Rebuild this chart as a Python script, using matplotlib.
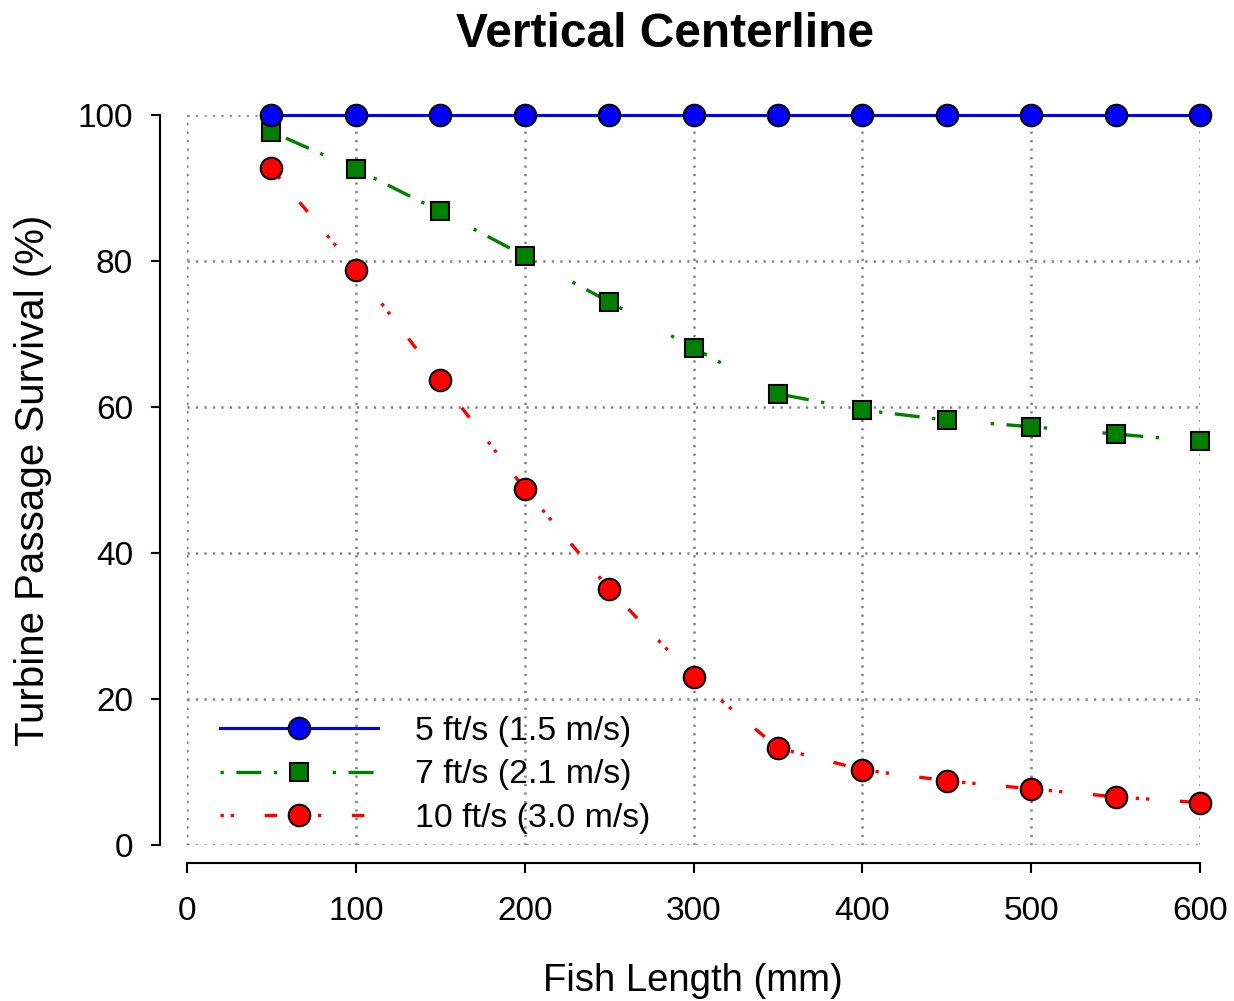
import matplotlib
matplotlib.use('Agg')
import matplotlib.pyplot as plt
import numpy as np

plt.rcParams['font.family'] = ['Liberation Sans', 'DejaVu Sans']
plt.rcParams['lines.scale_dashes'] = False

# fish length (mm) and survival (%) for each intake velocity
length = [50, 100, 150, 200, 250, 300, 350, 400, 450, 500, 550, 600]
surv_5fts = [100, 100, 100, 100, 100, 100, 100, 100, 100, 100, 100, 100]
surv_7fts = [97.7, 92.6, 86.8, 80.7, 74.4, 68.1, 61.8, 59.6, 58.2, 57.3, 56.3, 55.3]
surv_10fts = [92.7, 78.8, 63.7, 48.8, 35.1, 23.0, 13.3, 10.3, 8.8, 7.7, 6.6, 5.8]

labels = ['5 ft/s (1.5 m/s)', '7 ft/s (2.1 m/s)', '10 ft/s (3.0 m/s)']
xticks = [0, 100, 200, 300, 400, 500, 600]
yticks = [0, 20, 40, 60, 80, 100]

fig = plt.figure(figsize=(12.34, 10.01), dpi=100)
ax = fig.add_axes([187/1234, 1 - 845/1001, (1200 - 187)/1234, (845 - 115)/1001])

ax.plot(length, surv_5fts, color='blue', lw=2.2, marker='o', ms=15.5,
        mfc='blue', mec='black', mew=1.5, clip_on=False, zorder=5, label=labels[0])
ax.plot(length, surv_7fts, color='green', lw=2.4, dashes=(2.4, 9, 18, 9, 2.4, 40),
        marker='s', ms=13.5, mfc='green', mec='black', mew=1.5, clip_on=False,
        zorder=4, label=labels[1])
ax.plot(length, surv_10fts, color='red', lw=2.4, dashes=(2.4, 5, 2.4, 22, 9, 22),
        marker='o', ms=15.5, mfc='red', mec='black', mew=1.5, clip_on=False,
        zorder=4, label=labels[2])

ax.set_xlim(0, 600)
ax.set_ylim(0, 100)
ax.set_xticks(xticks)
ax.set_yticks(yticks)
ax.grid(True, color='#808080', lw=1.8, linestyle=(0, (1.6, 4.5)))
ax.set_axisbelow(True)

for s in ['top', 'right']:
    ax.spines[s].set_visible(False)
ax.spines['left'].set_position(('outward', 27 * 0.72))
ax.spines['bottom'].set_position(('outward', 18 * 0.72))
ax.spines['left'].set_bounds(0, 100)
ax.spines['bottom'].set_bounds(0, 600)
ax.spines['left'].set_linewidth(1.5)
ax.spines['bottom'].set_linewidth(1.5)
ax.tick_params(axis='y', direction='out', length=6.5, width=1.5, pad=13, labelsize=24)
ax.tick_params(axis='x', direction='out', length=7, width=1.5, pad=17, labelsize=24)

fig.text(665/1234, 1 - 47/1001, 'Vertical Centerline', ha='center', va='baseline',
         fontsize=34.5, fontweight='bold')
fig.text(693/1234, 1 - 991/1001, 'Fish Length (mm)', ha='center', va='baseline', fontsize=27.5)
fig.text(33/1234, 1 - 480/1001, 'Turbine Passage Survival (%)', ha='center', va='center',
         rotation=90, fontsize=29)

ax.legend(loc='center left', bbox_to_anchor=(220/1234, 1 - 775/1001),
          bbox_transform=fig.transFigure, frameon=False, fontsize=24.4,
          handlelength=4.65, handletextpad=1.1, borderpad=0, borderaxespad=0,
          labelspacing=0.36)

fig.savefig('out.png', dpi=100)
